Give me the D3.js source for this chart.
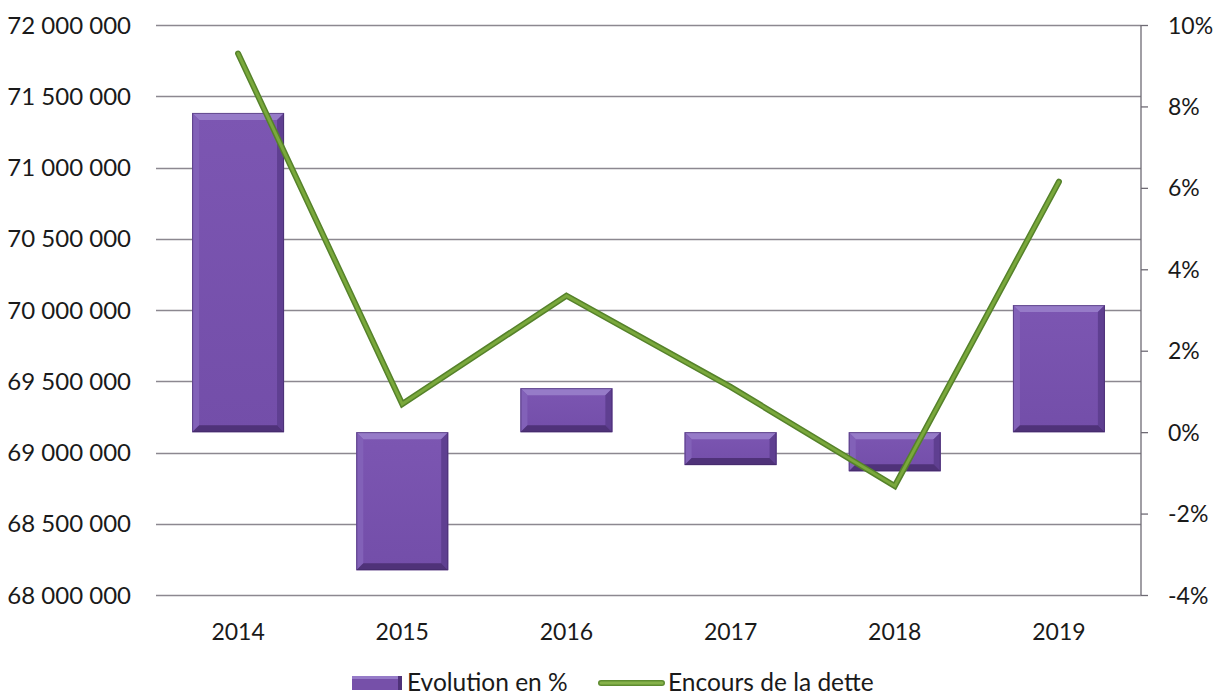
<!DOCTYPE html>
<html>
<head>
<meta charset="utf-8">
<script src="https://cdn.jsdelivr.net/npm/d3@7"></script>
<style>
  html, body { margin: 0; padding: 0; background: #ffffff; }
  svg { display: block; }
  text { font-family: "Lato", "Open Sans", sans-serif; fill: #1a1a1a; }
</style>
</head>
<body>
<svg id="chart" width="1215" height="695"></svg>
<script>
// Annual data
const years = ["2014", "2015", "2016", "2017", "2018", "2019"];
const evolution = [7.84, -3.39, 1.08, -0.81, -0.96, 3.12];            // % change
const encours = [71800000, 69340000, 70100000, 69460000, 68765000, 70900000]; // debt outstanding
const leftTicks = [68000000, 68500000, 69000000, 69500000, 70000000, 70500000, 71000000, 71500000, 72000000];
const rightTicks = [-4, -2, 0, 2, 4, 6, 8, 10];
const legendLabels = ["Evolution en %", "Encours de la dette"];

const svg = d3.select("#chart");
const plot = { left: 156, right: 1141, top: 25, bottom: 595 };

const x = d3.scaleBand().domain(years).range([plot.left, plot.right]).paddingInner(0.44).paddingOuter(0.22);
const yL = d3.scaleLinear().domain([68000000, 72000000]).range([plot.bottom, plot.top]);
const yR = d3.scaleLinear().domain([-4, 10]).range([plot.bottom, plot.top]);

const fmt = v => d3.format(",")(v).replace(/,/g, " ");

// Gradient for the bevelled bars
const defs = svg.append("defs");
const body = defs.append("linearGradient").attr("id", "barBody").attr("x1", 0).attr("y1", 0).attr("x2", 0).attr("y2", 1);
body.append("stop").attr("offset", "0%").attr("stop-color", "#7c56b2");
body.append("stop").attr("offset", "100%").attr("stop-color", "#734ea9");

// Horizontal gridlines on the left axis
svg.append("g").selectAll("line").data(leftTicks).join("line")
  .attr("x1", plot.left).attr("x2", plot.right)
  .attr("y1", d => Math.round(yL(d)) + 0.5).attr("y2", d => Math.round(yL(d)) + 0.5)
  .attr("stroke", "#8c8890").attr("stroke-width", 1.3);

// Left axis labels
svg.append("g").selectAll("text").data(leftTicks).join("text")
  .attr("x", 131).attr("y", d => yL(d) + 8.5)
  .attr("text-anchor", "end").attr("font-size", 24)
  .text(fmt);

// Right axis with outward ticks
const rAxis = svg.append("g").attr("transform", `translate(${plot.right},0)`)
  .call(d3.axisRight(yR).tickValues(rightTicks).tickSize(7).tickFormat(d => d + "%"));
rAxis.select(".domain").attr("stroke", "#6e6a74").attr("stroke-width", 1.3).attr("d", `M0,${plot.top}V${plot.bottom}`);
rAxis.selectAll(".tick line").attr("stroke", "#6e6a74").attr("stroke-width", 1.3);
rAxis.selectAll(".tick text").attr("x", 27).attr("dy", "0.35em").attr("font-size", 23)
  .attr("font-family", "Lato, 'Open Sans', sans-serif").attr("fill", "#1a1a1a");

// Category labels
svg.append("g").selectAll("text").data(years).join("text")
  .attr("x", d => x(d) + x.bandwidth() / 2).attr("y", 640)
  .attr("text-anchor", "middle").attr("font-size", 23)
  .text(d => d);

// Bevelled bars
const bev = 7;
const bars = svg.append("g").selectAll("g").data(years.map((y, i) => ({ y, v: evolution[i] }))).join("g");
bars.each(function (d) {
  const g = d3.select(this);
  const x0 = x(d.y), w = x.bandwidth();
  const y0 = yR(Math.max(0, d.v)), y1 = yR(Math.min(0, d.v));
  const x1 = x0 + w;
  g.append("rect").attr("x", x0).attr("y", y0).attr("width", w).attr("height", y1 - y0)
    .attr("fill", "url(#barBody)");
  // top bevel
  g.append("polygon").attr("points", [[x0, y0], [x1, y0], [x1 - bev, y0 + bev], [x0 + bev, y0 + bev]].join(" "))
    .attr("fill", "#967bc8");
  // left bevel
  g.append("polygon").attr("points", [[x0, y0], [x0 + bev, y0 + bev], [x0 + bev, y1 - bev], [x0, y1]].join(" "))
    .attr("fill", "#8261b8");
  // right bevel
  g.append("polygon").attr("points", [[x1, y0], [x1 - bev, y0 + bev], [x1 - bev, y1 - bev], [x1, y1]].join(" "))
    .attr("fill", "#5f3f91");
  // bottom bevel
  g.append("polygon").attr("points", [[x0, y1], [x0 + bev, y1 - bev], [x1 - bev, y1 - bev], [x1, y1]].join(" "))
    .attr("fill", "#4f3279");
  // thin edge
  g.append("rect").attr("x", x0 + 0.5).attr("y", y0 + 0.5).attr("width", w - 1).attr("height", y1 - y0 - 1)
    .attr("fill", "none").attr("stroke", "#3e2763").attr("stroke-opacity", 0.55).attr("stroke-width", 1);
});

// Debt line
const line = d3.line().x((d, i) => x(years[i]) + x.bandwidth() / 2).y(d => yL(d));
svg.append("path").datum(encours).attr("d", line)
  .attr("fill", "none").attr("stroke", "#55822a").attr("stroke-width", 6)
  .attr("stroke-linecap", "round").attr("stroke-linejoin", "miter");
svg.append("path").datum(encours).attr("d", line)
  .attr("fill", "none").attr("stroke", "#7aa83c").attr("stroke-width", 3)
  .attr("stroke-linecap", "round").attr("stroke-linejoin", "miter");

// Legend
const lg = svg.append("g");
lg.append("rect").attr("x", 352).attr("y", 676).attr("width", 50).attr("height", 14).attr("fill", "#7650a9");
lg.append("rect").attr("x", 352).attr("y", 676).attr("width", 50).attr("height", 3).attr("fill", "#967bc8");
lg.append("rect").attr("x", 398).attr("y", 676).attr("width", 4).attr("height", 14).attr("fill", "#4f3279");
lg.append("text").attr("x", 407).attr("y", 691).attr("font-size", 24.5).text(legendLabels[0]);
lg.append("line").attr("x1", 601).attr("x2", 662).attr("y1", 683).attr("y2", 683)
  .attr("stroke", "#5f8c30").attr("stroke-width", 6).attr("stroke-linecap", "round");
lg.append("line").attr("x1", 601).attr("x2", 662).attr("y1", 683).attr("y2", 683)
  .attr("stroke", "#86b24a").attr("stroke-width", 3).attr("stroke-linecap", "round");
lg.append("text").attr("x", 668).attr("y", 691).attr("font-size", 24.5).text(legendLabels[1]);
</script>
</body>
</html>
